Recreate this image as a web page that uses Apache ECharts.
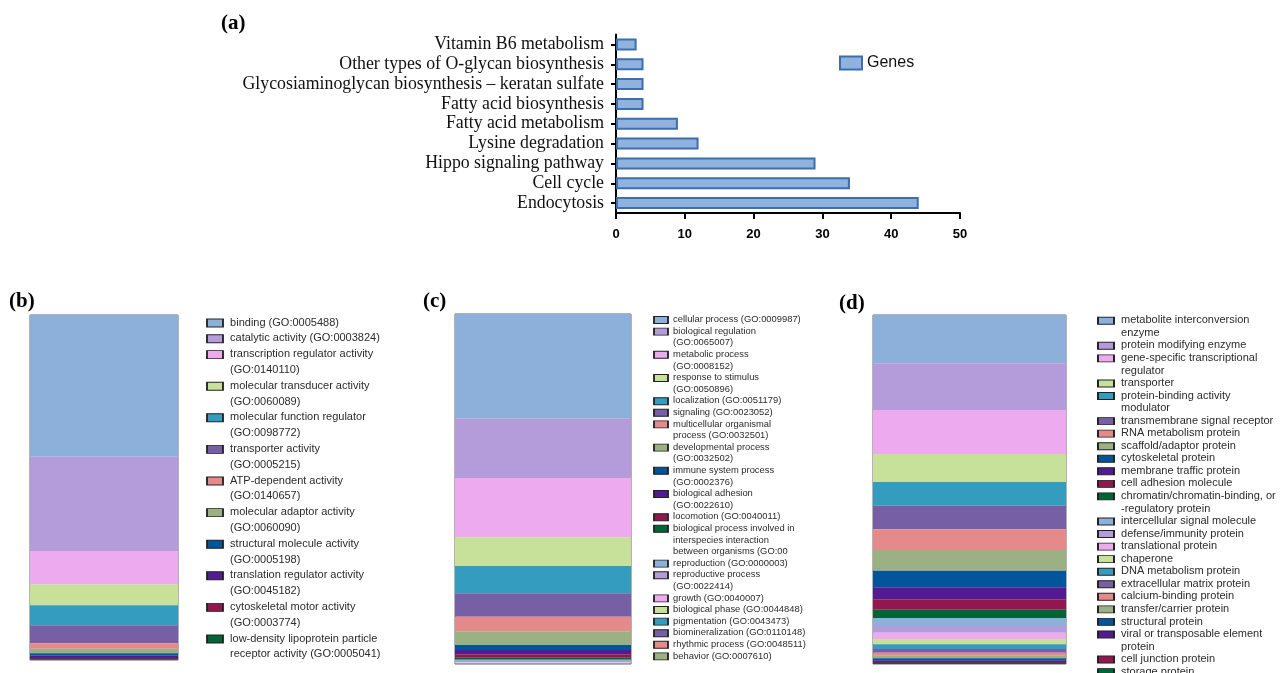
<!DOCTYPE html>
<html>
<head>
<meta charset="utf-8">
<title>KEGG pathways and GO classification</title>
<script src="https://cdn.jsdelivr.net/npm/echarts@6/dist/echarts.min.js"></script>
<style>
  html, body { margin: 0; padding: 0; background: #fff; }
  #chart { width: 1284px; height: 673px; }
</style>
</head>
<body>
<div id="chart"></div>
<script>
// (a) KEGG pathways, listed top to bottom
var pathways = ['Vitamin B6 metabolism', 'Other types of O-glycan biosynthesis',
    'Glycosiaminoglycan biosynthesis – keratan sulfate', 'Fatty acid biosynthesis',
    'Fatty acid metabolism', 'Lysine degradation', 'Hippo signaling pathway',
    'Cell cycle', 'Endocytosis'];
var pathwayGenes = [3, 4, 4, 4, 9, 12, 29, 34, 44];

// (b) molecular function
var functionNames = ['binding (GO:0005488)', 'catalytic activity (GO:0003824)',
    'transcription regulator activity\n(GO:0140110)', 'molecular transducer activity\n(GO:0060089)',
    'molecular function regulator\n(GO:0098772)', 'transporter activity\n(GO:0005215)',
    'ATP-dependent activity\n(GO:0140657)', 'molecular adaptor activity\n(GO:0060090)',
    'structural molecule activity\n(GO:0005198)', 'translation regulator activity\n(GO:0045182)',
    'cytoskeletal motor activity\n(GO:0003774)', 'low-density lipoprotein particle\nreceptor activity (GO:0005041)'];
var functionValues = [425, 283, 100, 63, 60, 54, 16, 14, 7, 7, 4, 2];

// (c) biological process
var processNames = ['cellular process (GO:0009987)', 'biological regulation\n(GO:0065007)',
    'metabolic process\n(GO:0008152)', 'response to stimulus\n(GO:0050896)',
    'localization (GO:0051179)', 'signaling (GO:0023052)',
    'multicellular organismal\nprocess (GO:0032501)', 'developmental process\n(GO:0032502)',
    'immune system process\n(GO:0002376)', 'biological adhesion\n(GO:0022610)',
    'locomotion (GO:0040011)', 'biological process involved in\ninterspecies interaction\nbetween organisms (GO:00',
    'reproduction (GO:0000003)', 'reproductive process\n(GO:0022414)', 'growth (GO:0040007)',
    'biological phase (GO:0044848)', 'pigmentation (GO:0043473)', 'biomineralization (GO:0110148)',
    'rhythmic process (GO:0048511)', 'behavior (GO:0007610)'];
var processValues = [314, 180, 178, 87, 82, 71, 43, 42, 15, 13, 10, 6, 4, 3, 2, 1.5, 1, 0.5, 0.5, 0.5];

// (d) protein class
var classNames = ['metabolite interconversion\nenzyme', 'protein modifying enzyme',
    'gene-specific transcriptional\nregulator', 'transporter', 'protein-binding activity\nmodulator',
    'transmembrane signal receptor', 'RNA metabolism protein', 'scaffold/adaptor protein',
    'cytoskeletal protein', 'membrane traffic protein', 'cell adhesion molecule',
    'chromatin/chromatin-binding, or\n-regulatory protein', 'intercellular signal molecule',
    'defense/immunity protein', 'translational protein', 'chaperone', 'DNA metabolism protein',
    'extracellular matrix protein', 'calcium-binding protein', 'transfer/carrier protein',
    'structural protein', 'viral or transposable element\nprotein', 'cell junction protein',
    'storage protein'];
var classValues = [145, 140, 132, 84, 71, 71, 62, 62, 50, 36, 31, 25, 24, 20, 19, 16, 14, 11, 9, 8, 6, 5, 3, 3];

var palette = ['#8DB0DA', '#B49CDA', '#EDAAEE', '#C7E09A', '#339CBF', '#775FA5',
    '#E48A8A', '#9BB183', '#02559A', '#521B92', '#92174E', '#016436'];

var chart = echarts.init(document.getElementById('chart'));

// one stacked column per panel, first item on top
function panelSeries(names, values, idx) {
    return names.map(function(name, i) {
        return {
            type: 'bar',
            name: name,
            stack: 'panel' + idx,
            xAxisIndex: idx,
            yAxisIndex: idx,
            barWidth: '100%',
            data: [values[i]],
            itemStyle: { color: palette[i % palette.length] }
        };
    });
}

// key for a panel: swatches placed on a line-index scale, so wrapped names keep the swatch on their first line
function lineStarts(names) {
    var starts = [], line = 0;
    names.forEach(function(n) {
        starts.push(line);
        line += n.split('\n').length;
    });
    return starts;
}

function keyParts(names, idx, o) {
    var starts = lineStarts(names);
    var last = starts[starts.length - 1];
    var grid = { left: o.iconX, top: o.firstLine, width: 120, height: last * o.lineHeight };
    var xAxis = { type: 'value', gridIndex: idx, min: 0, max: 1, show: false };
    var yAxis = { type: 'value', gridIndex: idx, min: 0, max: last, inverse: true, show: false };
    var series = {
        type: 'scatter',
        xAxisIndex: idx,
        yAxisIndex: idx,
        clip: false,
        silent: true,
        symbol: 'rect',
        symbolSize: [o.itemWidth, o.itemHeight],
        itemStyle: { borderColor: '#222', borderWidth: 1.3, opacity: 1 },
        label: {
            show: true,
            formatter: '{b}',
            position: [o.textGap, o.itemHeight / 2 - o.lineHeight / 2],
            align: 'left',
            verticalAlign: 'top',
            fontFamily: 'Liberation Sans, Arial',
            fontSize: o.fontSize,
            lineHeight: o.lineHeight,
            color: '#2b2b2b'
        },
        data: names.map(function(n, i) {
            return { name: n, value: [0, starts[i]], itemStyle: { color: palette[i % palette.length] } };
        })
    };
    return { grid: grid, xAxis: xAxis, yAxis: yAxis, series: series };
}

function panelGrid(left, top, width, height) {
    return { left: left, top: top, width: width, height: height, show: true,
        borderColor: '#666', borderWidth: 1, backgroundColor: 'transparent' };
}

function hiddenX(idx) {
    return { type: 'category', gridIndex: idx, data: ['all'], show: false };
}
function hiddenY(idx) {
    return { type: 'value', gridIndex: idx, inverse: true, min: 0, max: 'dataMax', show: false };
}

var keyB = keyParts(functionNames, 4, { iconX: 215, firstLine: 323, lineHeight: 15.8, fontSize: 11, itemWidth: 16, itemHeight: 8, textGap: 24 });
var keyC = keyParts(processNames, 5, { iconX: 661, firstLine: 320, lineHeight: 11.6, fontSize: 9.4, itemWidth: 14, itemHeight: 7, textGap: 20 });
var keyD = keyParts(classNames, 6, { iconX: 1106, firstLine: 320.7, lineHeight: 12.55, fontSize: 11, itemWidth: 16, itemHeight: 7, textGap: 24 });

var titleFont = { fontFamily: 'Liberation Serif, Times New Roman', fontWeight: 'bold', fontSize: 21, color: '#000' };

option = {
    animation: false,
    title: [
        { text: '(a)', left: 221, top: 13, padding: 0, textStyle: titleFont },
        { text: '(b)', left: 9, top: 291, padding: 0, textStyle: titleFont },
        { text: '(c)', left: 423, top: 291, padding: 0, textStyle: titleFont },
        { text: '(d)', left: 839, top: 293, padding: 0, textStyle: titleFont }
    ],
    legend: {
        data: ['Genes'],
        left: 839, top: 55, padding: 0,
        itemWidth: 22, itemHeight: 13,
        icon: 'rect',
        selectedMode: false,
        itemStyle: { borderColor: '#3D6EAE', borderWidth: 2 },
        textStyle: { fontFamily: 'Liberation Sans, Arial', fontSize: 16, color: '#111' }
    },
    grid: [
        { left: 616, top: 34.5, width: 344, height: 178.5 },
        panelGrid(30, 315, 148, 345),
        panelGrid(455, 314, 176, 350),
        panelGrid(873, 315, 193, 349),
        keyB.grid, keyC.grid, keyD.grid
    ],
    xAxis: [
        {
            type: 'value', gridIndex: 0, min: 0, max: 50, interval: 10,
            axisLine: { show: true, lineStyle: { color: '#000', width: 2 } },
            axisTick: { show: true, length: 6, lineStyle: { color: '#000', width: 2 } },
            splitLine: { show: false },
            axisLabel: { margin: 15, fontFamily: 'Liberation Sans, Arial', fontWeight: 'bold', fontSize: 13, color: '#000' }
        },
        hiddenX(1), hiddenX(2), hiddenX(3),
        keyB.xAxis, keyC.xAxis, keyD.xAxis
    ],
    yAxis: [
        {
            type: 'category', gridIndex: 0, data: pathways, inverse: true,
            axisLine: { show: true, lineStyle: { color: '#000', width: 2 } },
            axisTick: { show: true, alignWithLabel: true, interval: 0, length: 5, lineStyle: { color: '#000', width: 2 } },
            axisLabel: { interval: 0, margin: 12, fontFamily: 'Liberation Serif, Times New Roman', fontSize: 17.8, color: '#111' }
        },
        hiddenY(1), hiddenY(2), hiddenY(3),
        keyB.yAxis, keyC.yAxis, keyD.yAxis
    ],
    series: [
        {
            type: 'bar', name: 'Genes', xAxisIndex: 0, yAxisIndex: 0,
            data: pathwayGenes, barWidth: 12,
            itemStyle: { color: '#8FB2DF', borderColor: '#3D6EAE', borderWidth: 2 }
        }
    ].concat(panelSeries(functionNames, functionValues, 1),
             panelSeries(processNames, processValues, 2),
             panelSeries(classNames, classValues, 3),
             [keyB.series, keyC.series, keyD.series])
};

chart.setOption(option);
</script>
</body>
</html>
